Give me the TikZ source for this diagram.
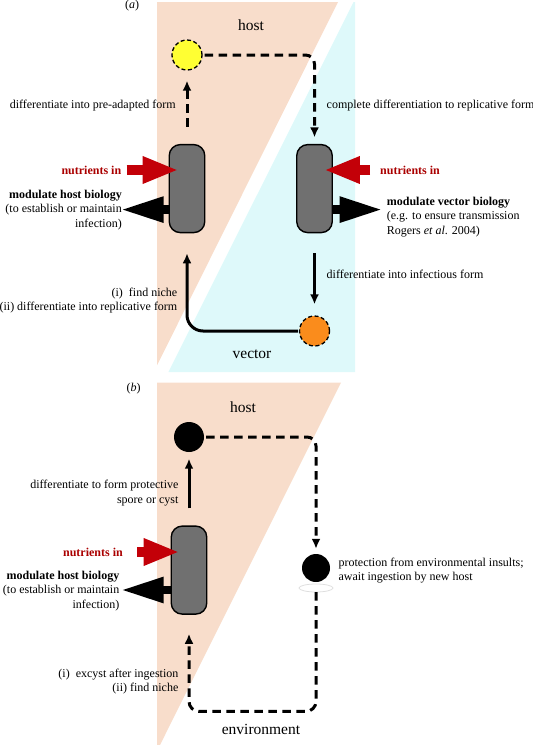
\documentclass[tikz,border=0pt]{standalone}
\usepackage{fontspec}
\setmainfont{Liberation Serif}
\usetikzlibrary{arrows.meta,calc}

\definecolor{hostbg}{RGB}{248,221,203}
\definecolor{vecbg}{RGB}{222,249,250}
\definecolor{rodgray}{RGB}{112,112,112}
\definecolor{nutred}{RGB}{195,0,8}
\definecolor{nuttext}{RGB}{170,0,0}
\definecolor{preyellow}{RGB}{255,255,51}
\definecolor{inforange}{RGB}{250,140,28}

\tikzset{
  rod/.style={draw, line width=1.4pt, fill=rodgray, rounded corners=11pt, minimum width=35.5pt, minimum height=88pt},
  cell/.style={circle, inner sep=0pt, minimum size=30pt},
  dcell/.style={cell, draw, line width=1.3pt, dash pattern=on 4pt off 2.5pt},
  txt/.style={font=\fontsize{12}{14.5}\selectfont, inner sep=0pt},
  zone/.style={font=\fontsize{15.5}{18}\selectfont, inner sep=0pt},
  nut/.style={txt, text=nuttext, font=\fontsize{12}{14.5}\selectfont\bfseries},
  flow/.style={line width=3pt, -{Latex[length=10pt,width=9pt]}},
  dflow/.style={flow, dash pattern=on 8.5pt off 5.5pt},
  feed/.style={draw=nutred, line width=9.5pt, -{Triangle[length=36pt,width=25pt]}},
  effect/.style={line width=8.5pt, -{Triangle[length=43pt,width=24pt]}},
}

\begin{document}
\begin{tikzpicture}[x=1pt, y=-1pt]
  \useasboundingbox (0,0) rectangle (533,745);

  \fill[hostbg] (157,2) -- (338,2) -- (157,365.4) -- cycle;
  \fill[vecbg] (168.4,372) -- (355,372) -- (355,2) -- (353.6,2) -- cycle;
  \node[txt] (labA) at (132,6) {(\textit{a})};
  \node[zone] (hostA) at (251,25.5) {host};
  \node[zone] (vec) at (252,354) {vector};

  \node[rod] (repH) at (187,188.6) {};
  \node[rod] (repV) at (314.5,188.6) {};
  \node[dcell, fill=preyellow] (pre) at (187,55) {};
  \node[dcell, fill=inforange] (inf) at (314.5,331) {};

  \coordinate (nutH) at (126.5,170);
  \coordinate (nutV) at (370,170);
  \coordinate (modH) at (120.7,209.6);
  \coordinate (modV) at (382.6,209.6);

  \draw[effect] (repH.west |- modH) -- (modH);
  \draw[effect] (repV.east |- modV) -- (modV);
  \draw[feed] (nutH) -- ($(nutH -| repH.west)+(10,0)$);
  \draw[feed] (nutV) -- ($(nutV -| repV.east)+(-9,0)$);

  \draw[dflow, shorten <=17pt, shorten >=10pt] (repH.north) -- (pre.south);
  \draw[dflow, rounded corners=9pt, shorten <=2pt, shorten >=6.5pt] (pre.east) -| (repV.north);
  \draw[flow, shorten <=20pt, shorten >=11pt] (repV.south) -- (inf.north);
  \draw[flow, rounded corners=16pt, shorten <=1pt, shorten >=20pt] (inf.west) -| (repH.south);

  \node[txt, anchor=east] (preT) at (176,105.4) {differentiate into pre-adapted form};
  \node[txt, anchor=west] (compT) at (326.5,105.4) {complete differentiation to replicative form};
  \node[nut, anchor=east] (nutHT) at (121.4,170) {nutrients in};
  \node[nut, anchor=west] (nutVT) at (380,170) {nutrients in};
  \node[txt, anchor=east, align=right] (modHT) at (122,210) {\textbf{modulate host biology}\\(to establish or maintain\\infection)};
  \node[txt, anchor=west, align=left] (modVT) at (386.7,217) {\textbf{modulate vector biology}\\(e.g. to ensure transmission\\Rogers \textit{et al}. 2004)};
  \node[txt, anchor=west] (infT) at (326.5,274.2) {differentiate into infectious form};
  \node[txt, anchor=east, align=right] (nicheT) at (177.5,300.5) {(i)\ \ find niche\\(ii) differentiate into replicative form};

  \fill[hostbg] (157,382.6) -- (341,382.6) -- (160,745) -- (157,745) -- cycle;
  \node[txt] (labB) at (133.7,388.7) {(\textit{b})};
  \node[zone] (hostB) at (243,406.7) {host};
  \node[zone] (env) at (261,729) {environment};

  \node[rod] (repB) at (189,570.1) {};
  \node[cell, fill=black] (spore) at (189,437) {};
  \node[cell, fill=black, minimum size=28pt] (cyst) at (316,568) {};
  \draw[gray!25, fill=white, line width=0.8pt] ($(cyst.center)+(0,20)$) ellipse [x radius=17, y radius=4];

  \coordinate (nutB) at (137,552);
  \coordinate (modB) at (120.7,590);
  \coordinate (soil) at (250,711.4);

  \draw[effect] (repB.west |- modB) -- (modB);
  \draw[feed] (nutB) -- ($(nutB -| repB.west)+(9,0)$);
  \draw[flow, shorten <=17pt, shorten >=6.5pt] (repB.north) -- (spore.south);
  \draw[dflow, rounded corners=9pt, shorten <=2pt, shorten >=5pt] (spore.east) -| (cyst.north);
  \draw[dflow, rounded corners=10pt, shorten <=10pt, shorten >=19pt] (cyst.south) |- (soil) -| (repB.south);

  \node[txt, anchor=east, align=right] (sporeT) at (178.6,493) {differentiate to form protective\\spore or cyst};
  \node[nut, anchor=east] (nutBT) at (123,552) {nutrients in};
  \node[txt, anchor=east, align=right] (modBT) at (119.5,591) {\textbf{modulate host biology}\\(to establish or maintain\\infection)};
  \node[txt, anchor=west, align=left] (protT) at (338.4,570.5) {protection from environmental insults;\\await ingestion by new host};
  \node[txt, anchor=east, align=right] (excT) at (178.6,681.5) {(i)\ \ excyst after ingestion\\(ii) find niche};
\end{tikzpicture}
\end{document}
